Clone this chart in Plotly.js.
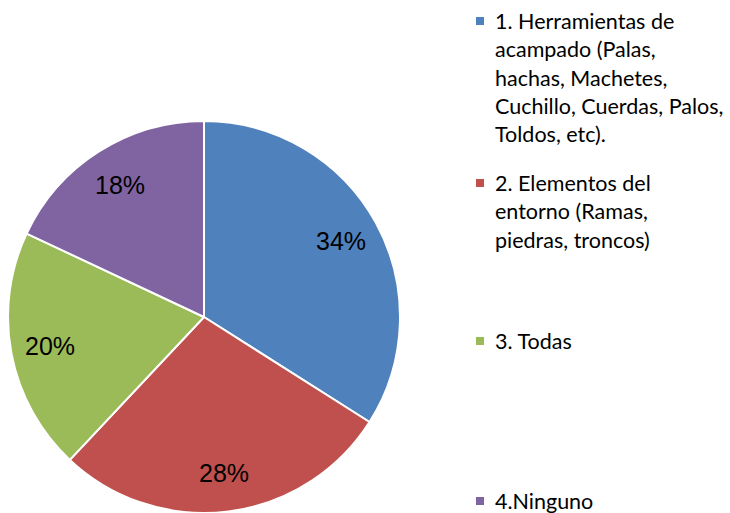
<!DOCTYPE html>
<html>
<head>
<meta charset="utf-8">
<script src="https://cdn.plot.ly/plotly-3.0.1.min.js"></script>
<style>html,body{margin:0;padding:0;background:#fff;}#chart{width:730px;height:513px;}</style>
</head>
<body>
<div id="chart"></div>
<script>
// Data
const categories = [
  "1. Herramientas de acampado (Palas, hachas, Machetes, Cuchillo, Cuerdas, Palos, Toldos, etc).",
  "2. Elementos del entorno (Ramas, piedras, troncos)",
  "3. Todas",
  "4.Ninguno"
];
const values = [34, 28, 20, 18];
const legendLines = [
  ["1. Herramientas de", "acampado (Palas,", "hachas, Machetes,", "Cuchillo, Cuerdas, Palos,", "Toldos, etc)."],
  ["2. Elementos del", "entorno (Ramas,", "piedras, troncos)"],
  ["3. Todas"],
  ["4.Ninguno"]
];
const colors = ["#4F81BD", "#C0504D", "#9BBB59", "#8064A2"];

const W = 730, H = 513;
// pie geometry (pixels)
const pieLeft = 8, pieRight = 400, pieBottom = 0, pieTop = 392;
const cx = (pieLeft + pieRight) / 2, cyB = (pieBottom + pieTop) / 2, R = (pieRight - pieLeft) / 2;
const labelRadius = 0.8;

// legend layout (pixels from top)
const legendTop = [21, 183, 341, 501];
const lineGap = 28.3;
const textX = 493, markX = 476, markSize = 8;

const annotations = [];
const shapes = [];
legendLines.forEach((lines, i) => {
  lines.forEach((ln, j) => {
    annotations.push({
      xref: 'paper', yref: 'paper',
      x: textX / W, y: 1 - (legendTop[i] + j * lineGap) / H,
      xanchor: 'left', yanchor: 'middle',
      text: ln, showarrow: false,
      font: {family: 'Lato, "Open Sans", sans-serif', size: 21.5, color: '#000'}
    });
  });
  const cy = legendTop[i];
  shapes.push({
    type: 'rect', xref: 'paper', yref: 'paper',
    x0: markX / W, x1: (markX + markSize) / W,
    y0: 1 - (cy + markSize / 2) / H, y1: 1 - (cy - markSize / 2) / H,
    fillcolor: colors[i], line: {width: 0}
  });
});

// percentage labels placed along each slice's bisector
const total = values.reduce((a, b) => a + b, 0);
let cum = 0;
values.forEach((v) => {
  const mid = (cum + v / 2) / total * 2 * Math.PI;
  cum += v;
  const px = cx + R * labelRadius * Math.sin(mid);
  const py = cyB + R * labelRadius * Math.cos(mid);
  annotations.push({
    xref: 'paper', yref: 'paper',
    x: px / W, y: py / H, xanchor: 'center', yanchor: 'middle',
    text: Math.round(v / total * 100) + '%', showarrow: false,
    font: {family: '"Liberation Sans", Arial, sans-serif', size: 25, color: '#000'}
  });
});

const trace = {
  type: 'pie',
  labels: categories,
  values: values,
  sort: false,
  direction: 'clockwise',
  rotation: 0,
  marker: {colors: colors, line: {color: '#FFFFFF', width: 2}},
  textinfo: 'none',
  hoverinfo: 'label+percent',
  domain: {x: [pieLeft / W, pieRight / W], y: [pieBottom / H, pieTop / H]},
  showlegend: false
};

const layout = {
  width: W, height: H,
  margin: {l: 0, r: 0, t: 0, b: 0},
  paper_bgcolor: '#fff',
  plot_bgcolor: '#fff',
  showlegend: false,
  annotations: annotations,
  shapes: shapes
};

Plotly.newPlot('chart', [trace], layout, {displayModeBar: false, staticPlot: true});
</script>
</body>
</html>
